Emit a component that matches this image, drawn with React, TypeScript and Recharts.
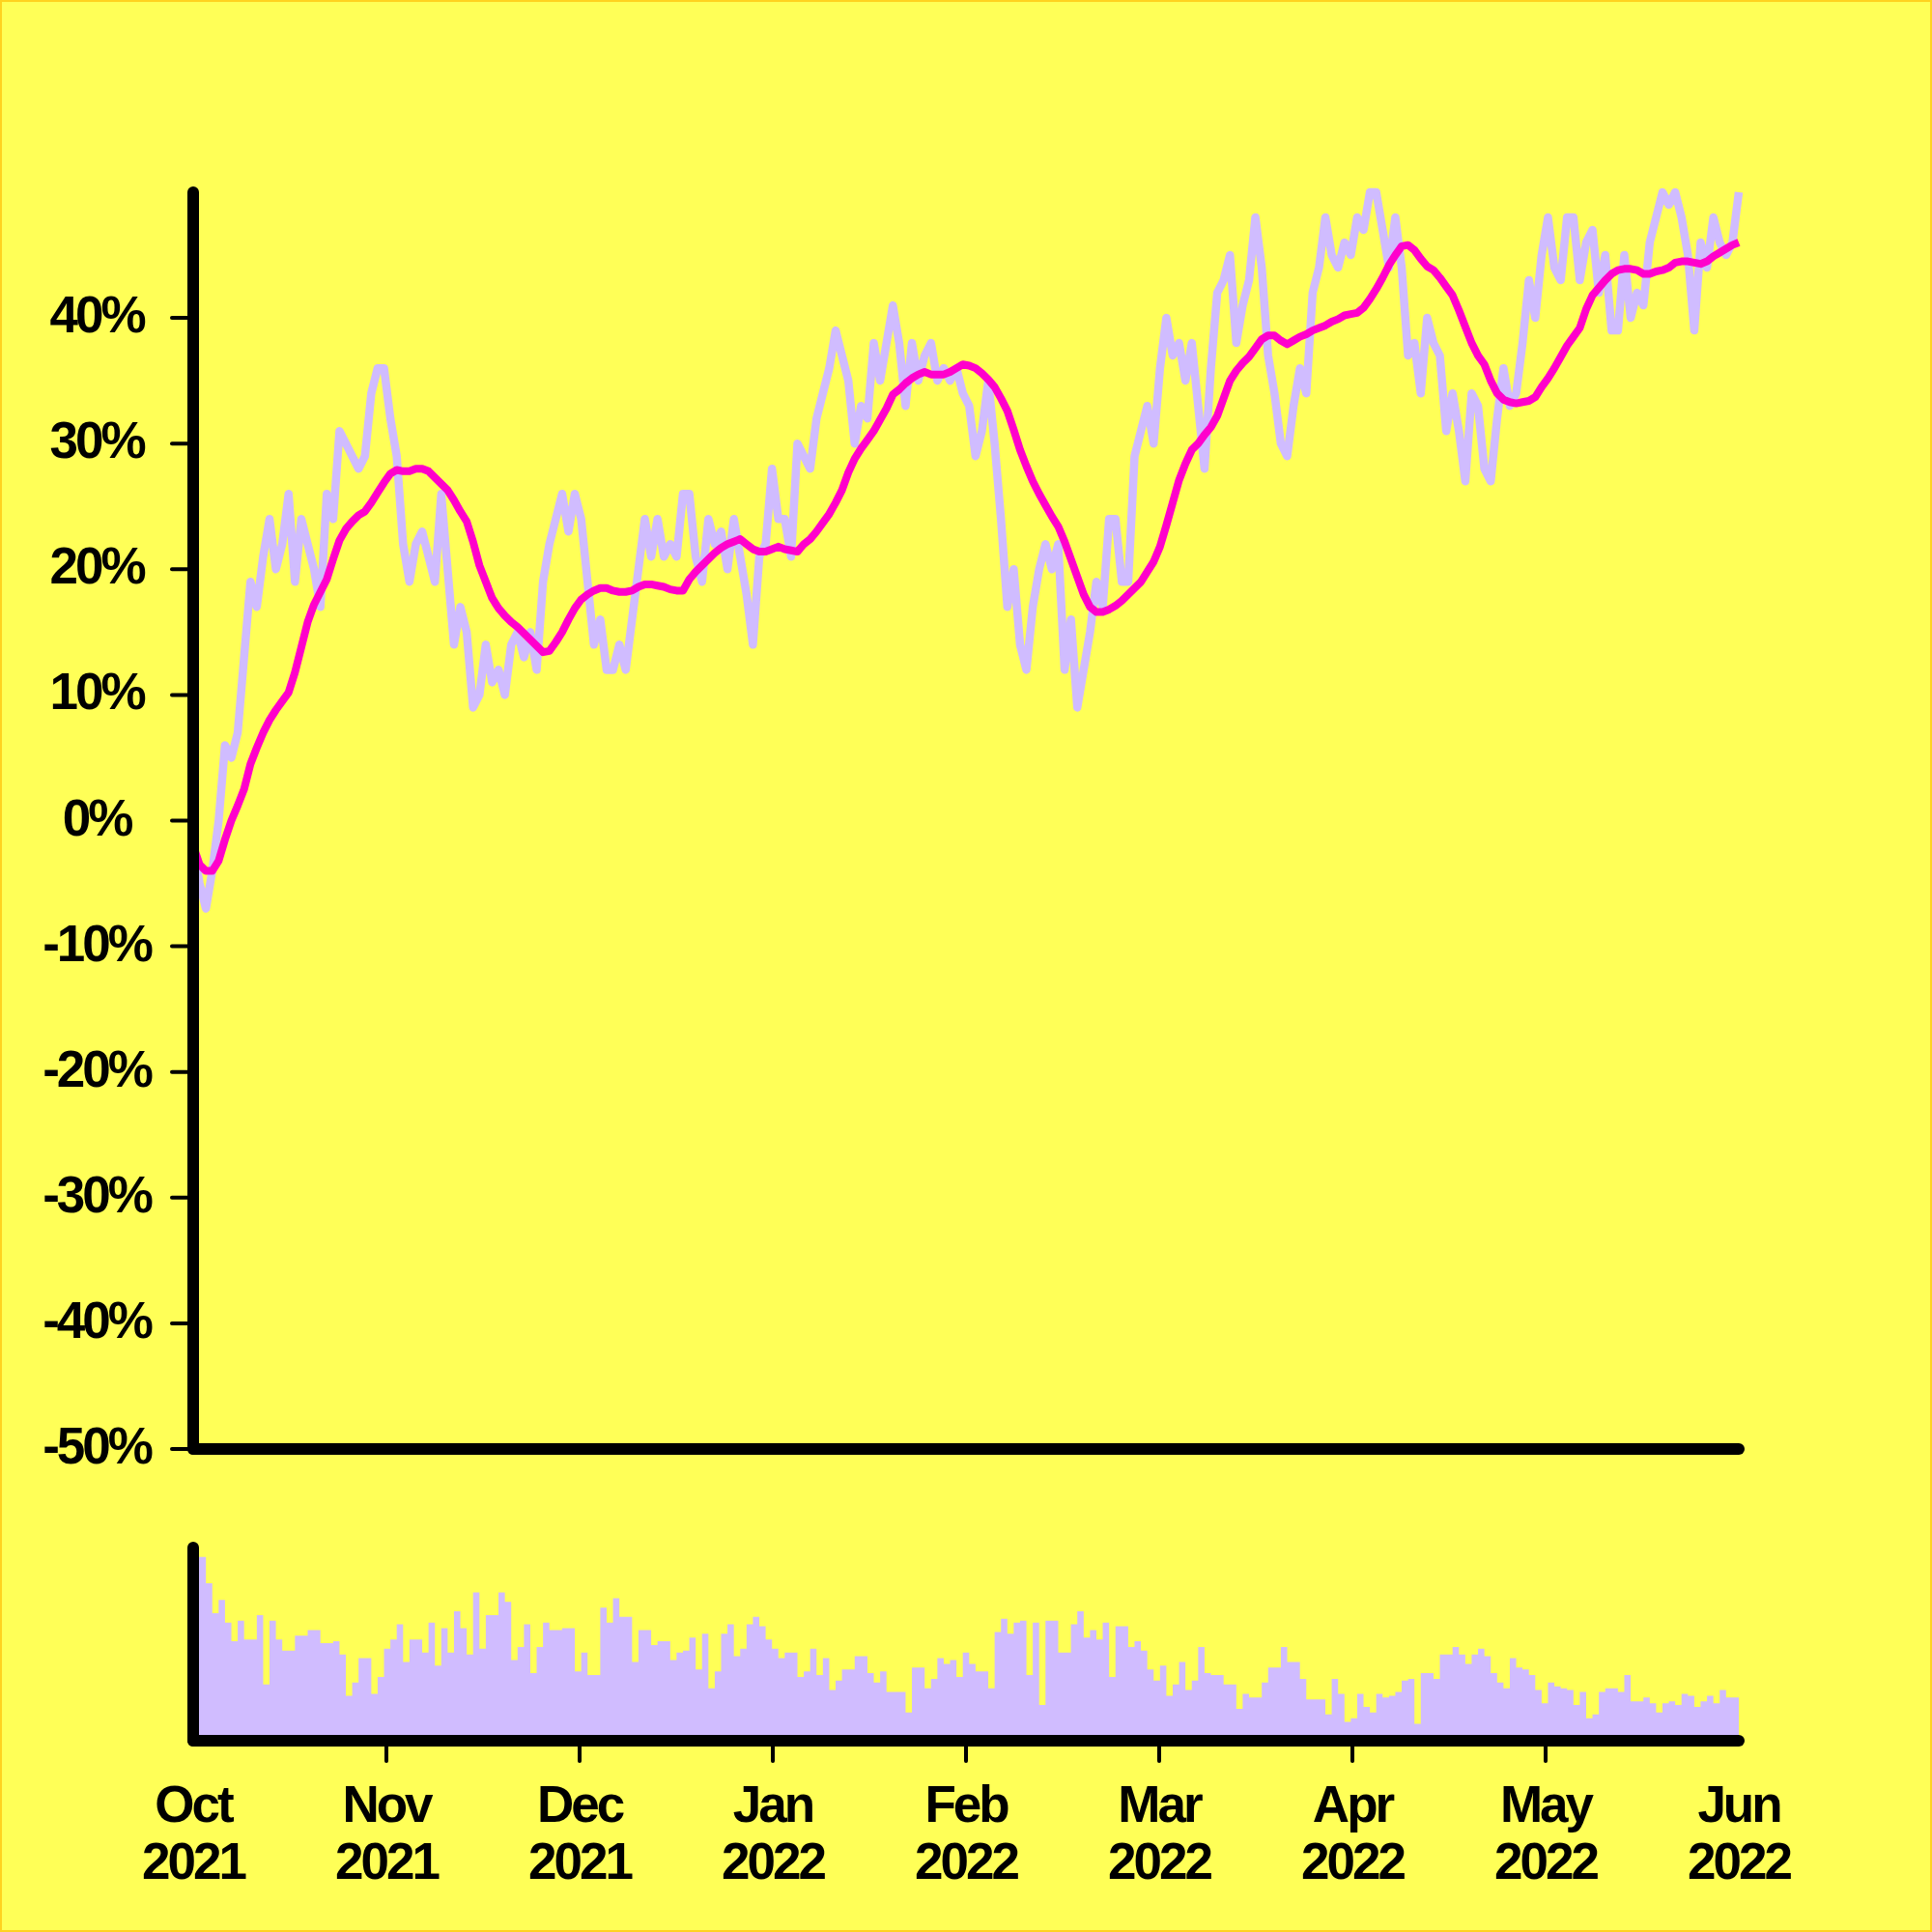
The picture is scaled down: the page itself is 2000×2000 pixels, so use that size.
import React from 'react';
import { ComposedChart, Line, Area, XAxis, YAxis } from 'recharts';

// tick labels
const months = ['Oct', 'Nov', 'Dec', 'Jan', 'Feb', 'Mar', 'Apr', 'May', 'Jun'];
const years = ['2021', '2021', '2021', '2022', '2022', '2022', '2022', '2022', '2022'];
const yTicks = [-50, -40, -30, -20, -10, 0, 10, 20, 30, 40];

// daily return since Oct 1 2021, %
const returnPct = [
  -2, -5, -7, -4, 0, 6, 5, 7, 13, 19, 17, 21, 24, 20, 22, 26, 19, 24, 22, 20,
  17, 26, 24, 31, 30, 29, 28, 29, 34, 36, 36, 32, 29, 22, 19, 22, 23, 21, 19, 26,
  20, 14, 17, 15, 9, 10, 14, 11, 12, 10, 14, 15, 13, 15, 12, 19, 22, 24, 26, 23,
  26, 24, 19, 14, 16, 12, 12, 14, 12, 16, 20, 24, 21, 24, 21, 22, 21, 26, 26, 21,
  19, 24, 22, 23, 20, 24, 21, 18, 14, 21, 22, 28, 24, 24, 21, 30, 29, 28, 32, 34,
  36, 39, 37, 35, 30, 33, 32, 38, 35, 38, 41, 38, 33, 38, 35, 37, 38, 35, 36, 35,
  36, 34, 33, 29, 31, 35, 30, 24, 17, 20, 14, 12, 17, 20, 22, 20, 22, 12, 16, 9,
  12, 15, 19, 17, 24, 24, 19, 19, 29, 31, 33, 30, 36, 40, 37, 38, 35, 38, 33, 28,
  36, 42, 43, 45, 38, 41, 43, 48, 44, 37, 34, 30, 29, 33, 36, 34, 42, 44, 48, 45,
  44, 46, 45, 48, 47, 50, 50, 47, 44, 48, 44, 37, 38, 34, 40, 38, 37, 31, 34, 31,
  27, 34, 33, 28, 27, 32, 36, 33, 34, 38, 43, 40, 45, 48, 44, 43, 48, 48, 43, 46,
  47, 42, 45, 39, 39, 45, 40, 42, 41, 46, 48, 50, 49, 50, 48, 45, 39, 46, 44, 48,
  46, 45, 46, 50,
];

// smoothed trend, %
const trendPct = [
  -2, -3.5, -4, -4, -3.2, -1.5, 0, 1.2, 2.5, 4.5, 5.8, 7, 8, 8.8, 9.5, 10.2, 11.8, 13.8, 15.8, 17.2,
  18.2, 19.2, 20.8, 22.3, 23.2, 23.8, 24.3, 24.6, 25.3, 26.1, 26.9, 27.6, 27.9, 27.8, 27.8, 28, 28, 27.8, 27.3, 26.8,
  26.3, 25.5, 24.6, 23.8, 22.2, 20.3, 19, 17.7, 16.9, 16.3, 15.8, 15.4, 14.9, 14.4, 13.9, 13.4, 13.5, 14.2, 15, 16,
  16.9, 17.6, 18, 18.3, 18.5, 18.5, 18.3, 18.2, 18.2, 18.3, 18.6, 18.8, 18.8, 18.7, 18.6, 18.4, 18.3, 18.3, 19.2, 19.8,
  20.3, 20.8, 21.3, 21.7, 22, 22.2, 22.4, 22, 21.6, 21.4, 21.4, 21.6, 21.8, 21.6, 21.5, 21.4, 22, 22.4, 23, 23.7,
  24.4, 25.3, 26.3, 27.7, 28.8, 29.6, 30.3, 31, 31.9, 32.8, 33.9, 34.3, 34.8, 35.2, 35.5, 35.7, 35.5, 35.5, 35.5, 35.7,
  36, 36.3, 36.2, 36, 35.6, 35.1, 34.5, 33.6, 32.6, 31.1, 29.5, 28.2, 27, 26, 25.1, 24.2, 23.4, 22.2, 20.8, 19.4,
  18, 17, 16.6, 16.6, 16.8, 17.1, 17.5, 18, 18.5, 19, 19.8, 20.6, 21.8, 23.5, 25.3, 27.1, 28.4, 29.5, 30, 30.7,
  31.3, 32.2, 33.6, 35, 35.8, 36.4, 36.9, 37.6, 38.3, 38.6, 38.6, 38.2, 37.9, 38.2, 38.5, 38.7, 39, 39.2, 39.4, 39.7,
  39.9, 40.2, 40.3, 40.4, 40.8, 41.5, 42.3, 43.2, 44.2, 45, 45.7, 45.8, 45.4, 44.7, 44.1, 43.8, 43.2, 42.5, 41.8, 40.6,
  39.3, 38, 37, 36.3, 35, 34, 33.5, 33.3, 33.2, 33.3, 33.4, 33.7, 34.5, 35.2, 36, 36.9, 37.8, 38.5, 39.2, 40.7,
  41.8, 42.4, 43, 43.5, 43.8, 43.9, 43.9, 43.8, 43.5, 43.5, 43.7, 43.8, 44, 44.4, 44.5, 44.5, 44.4, 44.3, 44.5, 44.9,
  45.2, 45.5, 45.8, 46,
];

// daily volume (relative)
const volume = [
  95, 95, 81, 65, 72, 60, 50, 61, 51, 51, 64, 27, 61, 51, 45, 45, 53, 53, 56, 56,
  49, 49, 50, 43, 21, 28, 41, 41, 22, 31, 46, 51, 59, 39, 51, 51, 44, 60, 37, 57,
  44, 66, 57, 43, 76, 46, 64, 64, 76, 71, 40, 47, 59, 33, 47, 60, 56, 56, 57, 57,
  34, 44, 32, 32, 68, 60, 73, 63, 63, 39, 56, 56, 48, 50, 50, 40, 44, 45, 52, 35,
  54, 25, 34, 54, 59, 42, 46, 59, 63, 58, 51, 46, 41, 44, 44, 31, 34, 46, 32, 41,
  24, 29, 35, 35, 42, 42, 33, 28, 34, 23, 23, 23, 12, 36, 36, 25, 30, 41, 38, 40,
  31, 44, 38, 34, 34, 25, 55, 62, 54, 60, 61, 32, 60, 16, 61, 61, 44, 44, 59, 66,
  52, 56, 51, 60, 31, 58, 58, 47, 50, 45, 35, 29, 37, 21, 27, 39, 24, 29, 47, 33,
  32, 32, 27, 27, 14, 22, 20, 20, 28, 36, 36, 47, 39, 39, 30, 19, 19, 19, 11, 30,
  22, 7, 9, 22, 15, 12, 22, 20, 21, 23, 29, 30, 6, 33, 33, 30, 43, 43, 47, 43,
  38, 43, 46, 42, 33, 28, 25, 41, 36, 35, 32, 24, 17, 28, 26, 25, 24, 16, 23, 9,
  11, 23, 25, 25, 23, 32, 18, 18, 20, 17, 12, 17, 18, 16, 22, 21, 15, 18, 21, 17,
  24, 20, 20, 20,
];

const LAST_DAY = returnPct.length - 1;
const data = returnPct.map((v, i) => ({ day: i, ret: v, trend: trendPct[i], vol: volume[i] }));
const xTicks = months.map((_, i) => (i * LAST_DAY) / (months.length - 1));

const BG = '#FFFF57';
const LAVENDER = '#D0BCFF';
const MAGENTA = '#FF00CC';
const font = "'Liberation Sans', Arial, Helvetica, sans-serif";
const labelStyle = { fontFamily: font, fontWeight: 700, fontSize: 53, letterSpacing: -3 };
const frame = { stroke: '#000', strokeWidth: 12, strokeLinecap: 'round' as const };

// y labels are centred in the gutter left of the tick marks
const YTick = ({ x, y, payload }: any) => (
  <text x={x} y={y} dy={15} textAnchor="middle" fill="#000" style={labelStyle}>
    {payload.value}%
  </text>
);

const MonthTick = ({ x, y, index }: any) => {
  const inner = index > 0 && index < months.length - 1;
  return (
    <g>
      {inner && <line x1={x} x2={x} y1={y + 4} y2={y + 21} stroke="#000" strokeWidth={4} strokeLinecap="round" />}
      <text x={x} y={y + 84} textAnchor="middle" fill="#000" style={labelStyle}>
        {months[index]}
      </text>
      <text x={x} y={y + 143} textAnchor="middle" fill="#000" style={labelStyle}>
        {years[index]}
      </text>
    </g>
  );
};

export default function App() {
  return (
    <div
      style={{
        position: 'absolute', left: 0, top: 0, width: 2000, height: 2000,
        background: BG, boxSizing: 'border-box', border: '2px solid #FFD21F',
      }}
    >
      <div style={{ position: 'absolute', left: -2, top: -2 }}>
        <ComposedChart width={2000} height={1560} data={data} margin={{ top: 199, right: 200, bottom: 0, left: 0 }}>
          <XAxis type="number" dataKey="day" domain={[0, LAST_DAY]} ticks={xTicks} tick={false} tickLine={false} axisLine={frame} height={60} />
          <YAxis domain={[-50, 50]} ticks={yTicks} width={200} tickSize={22} tickMargin={78}
            tickLine={{ stroke: '#000', strokeWidth: 4, strokeLinecap: 'round' }} axisLine={frame} tick={YTick} interval={0} />
          <YAxis yAxisId="r" orientation="right" domain={[-50, 50]} width={0} tick={false} tickLine={false} axisLine={frame} />
          <Line type="linear" dataKey="ret" stroke={LAVENDER} strokeWidth={8.5} strokeLinejoin="round" dot={false} isAnimationActive={false} />
          <Line type="linear" dataKey="trend" stroke={MAGENTA} strokeWidth={8} strokeLinejoin="round" dot={false} isAnimationActive={false} />
        </ComposedChart>
      </div>
      <div style={{ position: 'absolute', left: -2, top: 1558 }}>
        <ComposedChart width={2000} height={442} data={data} margin={{ top: 42, right: 200, bottom: 0, left: 0 }}>
          <XAxis type="number" dataKey="day" domain={[0, LAST_DAY]} ticks={xTicks} interval={0} tickSize={0} tickMargin={0}
            tickLine={false} axisLine={frame} tick={MonthTick} height={200} />
          <YAxis domain={[-3, 100]} width={200} tick={false} tickLine={false} axisLine={frame} />
          <YAxis yAxisId="r" orientation="right" domain={[-3, 100]} width={0} tick={false} tickLine={false} axisLine={frame} />
          <Area type="stepAfter" dataKey="vol" baseValue={-3} stroke="none" fill={LAVENDER} fillOpacity={1} isAnimationActive={false} />
        </ComposedChart>
      </div>
    </div>
  );
}
